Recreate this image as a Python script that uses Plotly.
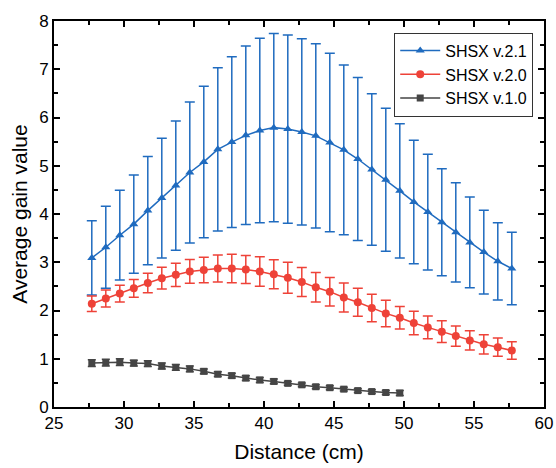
import plotly.graph_objects as go

distance = [27.7, 28.7, 29.7, 30.7, 31.7, 32.7, 33.7, 34.7, 35.7, 36.7, 37.7,
            38.7, 39.7, 40.7, 41.7, 42.7, 43.7, 44.7, 45.7, 46.7, 47.7, 48.7,
            49.7, 50.7, 51.7, 52.7, 53.7, 54.7, 55.7, 56.7, 57.7]

v21 = [3.09, 3.31, 3.56, 3.79, 4.07, 4.33, 4.59, 4.86, 5.08, 5.34, 5.49,
       5.63, 5.73, 5.79, 5.76, 5.70, 5.62, 5.48, 5.33, 5.14, 4.92, 4.71,
       4.48, 4.25, 4.04, 3.83, 3.62, 3.41, 3.21, 3.02, 2.87]
e21 = [0.77, 0.85, 0.93, 1.02, 1.12, 1.24, 1.34, 1.46, 1.57, 1.69, 1.77,
       1.85, 1.91, 1.95, 1.95, 1.93, 1.91, 1.85, 1.76, 1.69, 1.57, 1.48,
       1.39, 1.28, 1.20, 1.11, 1.03, 0.94, 0.87, 0.80, 0.75]

v20 = [2.14, 2.25, 2.35, 2.46, 2.57, 2.67, 2.74, 2.81, 2.84, 2.87, 2.87,
       2.85, 2.81, 2.75, 2.68, 2.59, 2.48, 2.39, 2.27, 2.17, 2.05, 1.94,
       1.85, 1.74, 1.65, 1.56, 1.47, 1.38, 1.30, 1.24, 1.17]
e20 = [0.16, 0.175, 0.175, 0.185, 0.20, 0.225, 0.24, 0.245, 0.265, 0.28, 0.295,
       0.29, 0.305, 0.30, 0.32, 0.30, 0.305, 0.295, 0.30, 0.29, 0.285, 0.275,
       0.235, 0.245, 0.235, 0.225, 0.21, 0.20, 0.20, 0.19, 0.18]

distance10 = [27.7, 28.7, 29.7, 30.7, 31.7, 32.7, 33.7, 34.7, 35.7, 36.7, 37.7,
              38.7, 39.7, 40.7, 41.7, 42.7, 43.7, 44.7, 45.7, 46.7, 47.7, 48.7, 49.7]
v10 = [0.91, 0.92, 0.93, 0.91, 0.90, 0.85, 0.82, 0.79, 0.74, 0.68, 0.65,
       0.60, 0.56, 0.53, 0.49, 0.46, 0.42, 0.40, 0.37, 0.34, 0.32, 0.30, 0.29]
e10 = [0.07, 0.07, 0.07, 0.06, 0.06, 0.06, 0.06, 0.06, 0.05, 0.05, 0.05,
       0.05, 0.05, 0.05, 0.04, 0.04, 0.04, 0.04, 0.04, 0.04, 0.04, 0.04, 0.05]

names = ["SHSX v.2.1", "SHSX v.2.0", "SHSX v.1.0"]
x_ticks = [25, 30, 35, 40, 45, 50, 55, 60]
y_ticks = [0, 1, 2, 3, 4, 5, 6, 7, 8]

BLUE = "#1F6BBF"
RED = "#EE4238"
GRAY = "#454545"

fig = go.Figure()
fig.add_trace(go.Scatter(
    x=distance, y=v21, name=names[0], mode="lines+markers",
    line=dict(color=BLUE, width=1.5),
    marker=dict(symbol="triangle-up", size=8, color=BLUE),
    error_y=dict(type="data", array=e21, color=BLUE, thickness=1.5, width=5),
))
fig.add_trace(go.Scatter(
    x=distance, y=v20, name=names[1], mode="lines+markers",
    line=dict(color=RED, width=1.5),
    marker=dict(symbol="circle", size=8, color=RED),
    error_y=dict(type="data", array=e20, color=RED, thickness=1.5, width=5),
))
fig.add_trace(go.Scatter(
    x=distance10, y=v10, name=names[2], mode="lines+markers",
    line=dict(color=GRAY, width=1.5),
    marker=dict(symbol="square", size=7, color=GRAY),
    error_y=dict(type="data", array=e10, color=GRAY, thickness=1.5, width=4),
))

FONT = "Liberation Sans, Arial"

axis_common = dict(
    showline=True, linecolor="black", linewidth=2, mirror="allticks",
    ticks="inside", ticklen=6, tickwidth=1.5, tickcolor="black",
    showgrid=False, zeroline=False, automargin=False,
    tickfont=dict(family=FONT, size=17, color="black"),
)

fig.update_layout(
    width=556, height=468,
    margin=dict(l=54, r=12, t=21, b=61),
    paper_bgcolor="white", plot_bgcolor="white",
    font=dict(family=FONT, size=17, color="black"),
    xaxis=dict(range=[25, 60], tickvals=x_ticks,
               title=dict(text="Distance (cm)", font=dict(size=21), standoff=12),
               minor=dict(ticks="inside", ticklen=4, tickwidth=1.5, dtick=2.5, tickcolor="black"),
               **axis_common),
    yaxis=dict(range=[0, 8], tickvals=y_ticks,
               title=dict(text="Average gain value", font=dict(size=21), standoff=6),
               minor=dict(ticks="inside", ticklen=4, tickwidth=1.5, dtick=0.5, tickcolor="black"),
               **axis_common),
    legend=dict(x=0.978, y=0.97, xanchor="right", yanchor="top",
                bgcolor="white", bordercolor="#333333", borderwidth=1,
                font=dict(size=16), tracegroupgap=0, itemwidth=40),
    showlegend=True,
)

fig.write_html("out.html",
               config={"displayModeBar": False},
               post_script="document.body.style.margin='0';document.body.style.overflow='hidden';")
